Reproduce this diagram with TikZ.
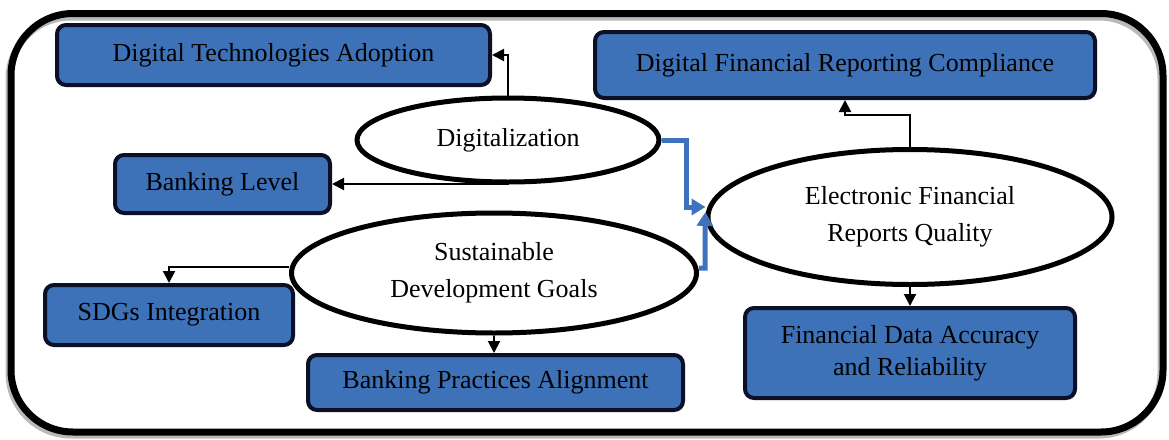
\documentclass[tikz,border=0pt]{standalone}
\usepackage{fontspec}
\setmainfont{Liberation Serif}
\usetikzlibrary{shapes.geometric,arrows.meta}
\definecolor{boxblue}{RGB}{61,114,185}
\definecolor{boxline}{RGB}{12,16,38}
\definecolor{linkblue}{RGB}{62,114,190}
\begin{document}
\begin{tikzpicture}[x=1pt,y=-1pt,
  box/.style={draw=boxline,line width=4pt,fill=boxblue,rounded corners=9pt,
    inner sep=0pt,align=center,font=\fontsize{26}{32}\selectfont},
  oval/.style={draw=black,line width=5pt,fill=white,ellipse,inner sep=0pt,
    align=center,font=\fontsize{26}{37}\selectfont},
  conn/.style={draw=black,line width=2pt,-{Triangle[length=12pt,width=12pt]}},
  bconn/.style={draw=linkblue,line width=5pt,-{Triangle[length=14pt,width=16pt]}}]
\useasboundingbox (0,0) rectangle (1169,439);
% outer frame
\draw[gray!55,line width=7pt,rounded corners=62pt] (9,17) rectangle (1161,435);
\draw[black,line width=7pt,rounded corners=62pt] (11,13.5) rectangle (1163,432);
% boxes
\node[box,minimum width=433pt,minimum height=60pt] (dta) at (273.5,55) {Digital Technologies Adoption};
\node[box,minimum width=215pt,minimum height=58pt] (bl) at (222.5,184) {Banking Level};
\node[box,minimum width=500pt,minimum height=66pt] (dfrc) at (845,65) {Digital Financial Reporting Compliance};
\node[box,minimum width=248pt,minimum height=60pt] (sdgi) at (169,315) {SDGs Integration};
\node[box,minimum width=375pt,minimum height=55pt] (bpa) at (495.5,382.5) {Banking Practices Alignment};
\node[box,minimum width=330pt,minimum height=90pt] (fdar) at (910,353) {Financial Data Accuracy\\and Reliability};
% ovals
\node[oval,minimum width=302pt,minimum height=84pt] (dig) at (508,140) {Digitalization};
\node[oval,minimum width=405pt,minimum height=120pt] (sdg) at (494,273) {Sustainable\\Development Goals};
\node[oval,minimum width=404pt,minimum height=135pt] (efrq) at (910,217) {Electronic Financial\\Reports Quality};
% black connectors
\draw[conn] (dig.north) |- (dta.east);
\draw[conn] (dig.south) |- (bl.east);
\draw[conn] ([yshift=6pt]sdg.west) -| (sdgi.north);
\draw[conn] (sdg.south) -- (sdg.south |- bpa.north);
\draw[conn] (efrq.north) -- ++(0,-32) -| (dfrc.south);
\draw[conn] (efrq.south) -- (efrq.south |- fdar.north);
% blue connectors
\draw[bconn] (dig.east) -- ++(25,0) |- ([yshift=10pt]efrq.west);
\draw[bconn] ([yshift=5pt]sdg.east) -- ++(6,0) -- ++(0,-44) -- ([yshift=5pt]efrq.west);
\end{tikzpicture}
\end{document}
